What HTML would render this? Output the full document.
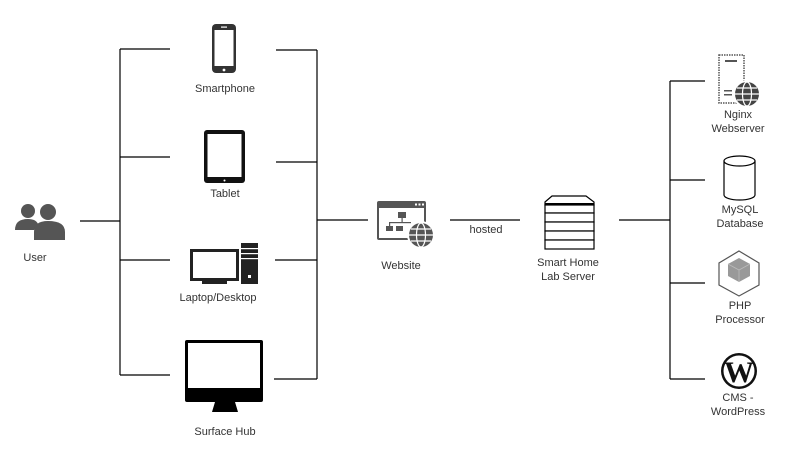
<!DOCTYPE html>
<html><head><meta charset="utf-8"><style>
html,body{margin:0;padding:0;background:#fff;}
svg{display:block;}
text{font-family:"Liberation Sans",Arial,sans-serif;font-size:11px;fill:#333;text-anchor:middle;}
</style></head><body>
<svg width="801" height="466" viewBox="0 0 801 466" xmlns="http://www.w3.org/2000/svg">
<g stroke="#000" stroke-width="1.2" fill="none">
<path d="M80 221H120M120 49V375M120 49H170M120 157H170M120 260H170M120 375H170"/>
<path d="M276 50H317M276 162H317M275 260H317M274 379H317M317 50V379M317 220H368"/>
<path d="M450 220H520M619 220H670M670 81V379M670 81H705M670 180H705M670 283H705M670 379H705"/>
</g>
<!-- user -->
<g fill="#555">
<circle cx="28" cy="211" r="7"/><path d="M15 230 Q15 219 28 219 Q36 219 38 224 L34 230Z"/>
<circle cx="48" cy="212" r="8"/><path d="M34 240 L34 232 Q34 221 48 221 Q65 221 65 232 L65 240Z"/>
</g>
<text x="35" y="261">User</text>
<!-- smartphone -->
<rect x="212" y="24" width="24" height="49" rx="4" fill="#333"/>
<rect x="214.5" y="30" width="19" height="36" fill="#fff"/>
<rect x="221" y="26.5" width="6" height="1.2" fill="#fff"/><circle cx="224" cy="70" r="1.4" fill="#fff"/>
<text x="225" y="92">Smartphone</text>
<!-- tablet -->
<rect x="204" y="130" width="41" height="53" rx="3" fill="#111"/>
<rect x="207.5" y="134" width="34" height="43" fill="#fff"/><circle cx="224.5" cy="180.5" r="1" fill="#fff"/>
<text x="225" y="197">Tablet</text>
<!-- desktop -->
<rect x="190" y="249" width="49" height="32" fill="#222"/><rect x="193" y="252" width="43" height="26" fill="#fff"/>
<rect x="202" y="281" width="25" height="3" fill="#222"/>
<rect x="241" y="243" width="17" height="41" fill="#222"/>
<g fill="#fff"><rect x="241" y="248" width="17" height="1.2"/><rect x="241" y="253" width="17" height="1.2"/><rect x="241" y="258" width="17" height="1.2"/><rect x="248" y="275" width="3" height="3"/></g>
<text x="218" y="301">Laptop/Desktop</text>
<!-- surface hub -->
<rect x="185" y="340" width="78" height="62" rx="2" fill="#000"/><rect x="188" y="343" width="72" height="45" fill="#fff"/>
<path d="M215 402H235L238 412H212Z" fill="#000"/>
<text x="225" y="435">Surface Hub</text>
<!-- website -->
<rect x="377" y="201" width="49" height="39" rx="2" fill="#555"/><rect x="379" y="208" width="45" height="30" fill="#fff"/>
<g fill="#fff"><rect x="415" y="203.5" width="2" height="2"/><rect x="418.5" y="203.5" width="2" height="2"/><rect x="422" y="203.5" width="2" height="2"/></g>
<g fill="#555"><rect x="398" y="212" width="8" height="6"/><rect x="401.5" y="218" width="1.2" height="5"/><rect x="389" y="222" width="22" height="1.2"/><rect x="389" y="222" width="1.2" height="4"/><rect x="386" y="226" width="7" height="5"/><rect x="396" y="226" width="7" height="5"/></g>
<circle cx="421" cy="235" r="14" fill="#fff"/><circle cx="421" cy="235" r="12" fill="#555"/>
<g stroke="#fff" stroke-width="1.2" fill="none"><ellipse cx="421" cy="235" rx="4.5" ry="12"/><path d="M409 235H433M411 229H431M411 241H431"/></g>
<text x="401" y="269">Website</text>
<text x="486" y="233">hosted</text>
<!-- server -->
<g fill="#fff" stroke="#000" stroke-width="1.2">
<path d="M545 202L552 196H586L594 202V205H545Z"/>
<rect x="545" y="205" width="49" height="8"/><rect x="545" y="213" width="49" height="9"/><rect x="545" y="222" width="49" height="9"/><rect x="545" y="231" width="49" height="9"/><rect x="545" y="240" width="49" height="9"/>
</g>
<rect x="545" y="203" width="49" height="2" fill="#000"/>
<text x="568" y="266">Smart Home</text><text x="568" y="280">Lab Server</text>
<!-- nginx -->
<rect x="719" y="55" width="25" height="48" fill="none" stroke="#555" stroke-width="1.5" stroke-dasharray="1.5 1"/>
<rect x="725" y="60" width="12" height="2" fill="#555"/><rect x="724" y="90" width="8" height="1.5" fill="#555"/><rect x="724" y="94" width="8" height="1.5" fill="#555"/>
<circle cx="747" cy="94" r="14" fill="#fff"/><circle cx="747" cy="94" r="12" fill="#444"/>
<g stroke="#fff" stroke-width="1.2" fill="none"><ellipse cx="747" cy="94" rx="4.5" ry="12"/><path d="M735 94H759M737 88H757M737 100H757"/></g>
<text x="738" y="118">Nginx</text><text x="738" y="132">Webserver</text>
<!-- db -->
<path d="M724 161V195A15.5 5 0 0 0 755 195V161" fill="#fff" stroke="#000" stroke-width="1.2"/>
<ellipse cx="739.5" cy="161" rx="15.5" ry="5" fill="#fff" stroke="#000" stroke-width="1.2"/>
<text x="740" y="213">MySQL</text><text x="740" y="227">Database</text>
<!-- php -->
<path d="M739 251L759 263V285L739 296L719 285V263Z" fill="#fff" stroke="#555" stroke-width="1.2"/>
<path d="M739 258L750 264V276L739 282L728 276V264Z" fill="#999"/>
<path d="M728 264L739 270L750 264M739 270V282" stroke="#bbb" stroke-width="0.8" fill="none"/>
<text x="740" y="309">PHP</text><text x="740" y="323">Processor</text>
<!-- wordpress -->
<circle cx="739" cy="371" r="18" fill="#111"/><circle cx="739" cy="371" r="15.5" fill="#fff"/>
<text x="739" y="382" style="font-family:'Liberation Serif',serif;font-size:30px;font-weight:bold;fill:#111">W</text>
<text x="738" y="401">CMS -</text><text x="738" y="415">WordPress</text>
</svg>
</body></html>
